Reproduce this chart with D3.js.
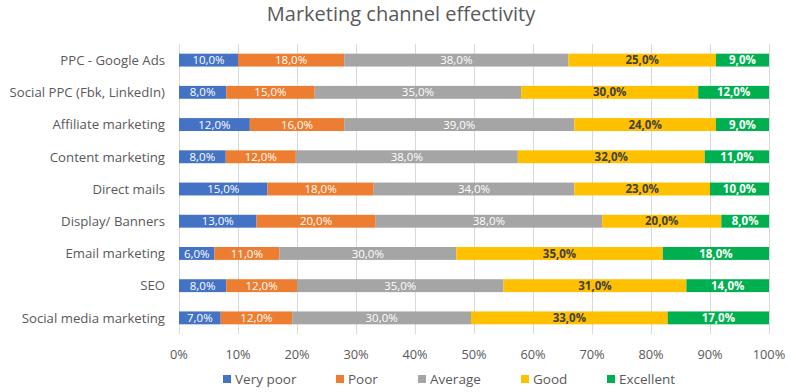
<!DOCTYPE html>
<html><head><meta charset="utf-8">
<script src="https://cdn.jsdelivr.net/npm/d3@7"></script>
<style>body{margin:0;background:#fff}svg{display:block}</style>
</head><body><svg id="c" width="796" height="392"></svg>
<script>
const categories = ["PPC - Google Ads","Social PPC (Fbk, LinkedIn)","Affiliate marketing","Content marketing","Direct mails","Display/ Banners","Email marketing","SEO","Social media marketing"];
const seriesNames = ["Very poor","Poor","Average","Good","Excellent"];
const veryPoor = [10,8,12,8,15,13,6,8,7];
const poor = [18,15,16,12,18,20,11,12,12];
const average = [38,35,39,38,34,38,30,35,30];
const good = [25,30,24,32,23,20,35,31,33];
const excellent = [9,12,9,11,10,8,18,14,17];
const tickLabels = ["0%","10%","20%","30%","40%","50%","60%","70%","80%","90%","100%"];
const colors = ["#4472C4","#ED7D31","#A5A5A5","#FFC000","#00B050"];

const seriesVals = [veryPoor,poor,average,good,excellent];
const font = "'Open Sans', sans-serif";
const svg = d3.select("#c");
const x = d3.scaleLinear().domain([0,1]).range([179,769]);
const y = d3.scaleBand().domain(categories).range([44,334]).paddingInner(0.6).paddingOuter(0.3);

svg.append("text").attr("x",401).attr("y",21).attr("text-anchor","middle")
  .attr("font-family",font).attr("font-size",20).attr("fill","#595959").text("Marketing channel effectivity");

// gridlines
svg.append("g").selectAll("line").data(d3.range(0,11)).join("line")
  .attr("x1",d=>Math.round(x(d/10))+0.5).attr("x2",d=>Math.round(x(d/10))+0.5)
  .attr("y1",44).attr("y2",334).attr("stroke","#d9d9d9").attr("stroke-width",1);

// stacked data
const rows = categories.map((c,i)=>{
  const o={cat:c}; seriesNames.forEach((s,j)=>o[s]=seriesVals[j][i]); return o;});
const stack = d3.stack().keys(seriesNames).offset(d3.stackOffsetExpand);
const layers = stack(rows);

layers.forEach((layer,j)=>{
  const g = svg.append("g");
  g.selectAll("rect").data(layer).join("rect")
    .attr("x",d=>x(d[0])).attr("width",d=>x(d[1])-x(d[0]))
    .attr("y",d=>y(d.data.cat)).attr("height",y.bandwidth())
    .attr("fill",colors[j]);
  g.selectAll("text").data(layer).join("text")
    .attr("x",d=>(x(d[0])+x(d[1]))/2).attr("y",d=>y(d.data.cat)+y.bandwidth()/2)
    .attr("dy","0.36em").attr("text-anchor","middle")
    .attr("font-family",font).attr("font-size",11.5)
    .attr("font-weight", j>=3 ? "bold":"normal")
    .attr("fill", j===3 ? "#404040" : "#ffffff")
    .text(d=>d.data[seriesNames[j]].toFixed(1).replace(".",",")+"%");
});

// category labels
svg.append("g").selectAll("text").data(categories).join("text")
  .attr("x",165).attr("y",d=>y(d)+y.bandwidth()/2).attr("dy","0.36em")
  .attr("text-anchor","end").attr("font-family",font).attr("font-size",13.2)
  .attr("fill","#595959").text(d=>d);

// x tick labels
svg.append("g").selectAll("text").data(tickLabels).join("text")
  .attr("x",(d,i)=>x(i/10)).attr("y",354).attr("dy","0.36em").attr("text-anchor","middle")
  .attr("font-family",font).attr("font-size",12.8).attr("fill","#595959").text(d=>d);

// legend
const legX = [223,336,418,521,607];
const lg = svg.append("g");
seriesNames.forEach((s,j)=>{
  lg.append("rect").attr("x",legX[j]).attr("y",375).attr("width",8).attr("height",8).attr("fill",colors[j]);
  lg.append("text").attr("x",legX[j]+12).attr("y",379).attr("dy","0.36em")
    .attr("font-family",font).attr("font-size",13.5).attr("fill","#595959").text(s);
});
</script></body></html>
